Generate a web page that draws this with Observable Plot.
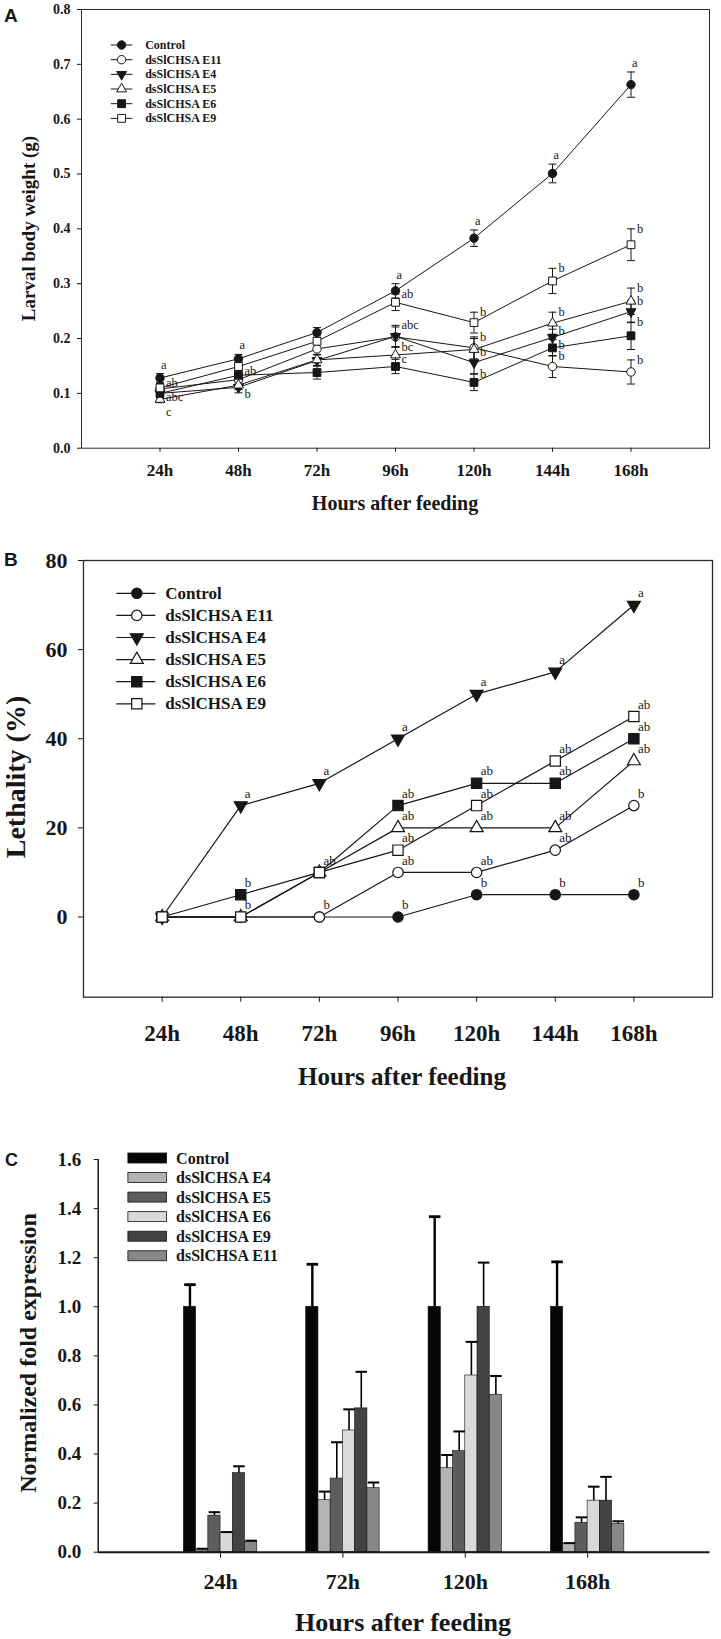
<!DOCTYPE html>
<html>
<head>
<meta charset="utf-8">
<script src="https://cdn.jsdelivr.net/npm/d3@7"></script>
<script src="https://cdn.jsdelivr.net/npm/@observablehq/plot@0.6"></script>
<style>
html,body{margin:0;padding:0;background:#fff;}
#root{position:relative;width:721px;height:1639px;overflow:hidden;background:#fff;}
.panel{position:absolute;left:0;width:721px;}
.panel svg{display:block;}
#overlay{position:absolute;left:0;top:0;pointer-events:none;}
</style>
</head>
<body>
<div id="root">
<div id="panelA" class="panel" style="top:0px"></div>
<div id="panelB" class="panel" style="top:545px"></div>
<div id="panelC" class="panel" style="top:1090px"></div>
<svg id="overlay" width="721" height="1639"></svg>
</div>
<script>
// ================= DATA =================
const hourValues = [24, 48, 72, 96, 120, 144, 168];
const hourLabels = ["24h", "48h", "72h", "96h", "120h", "144h", "168h"];
const lineSeries = ["Control", "dsSlCHSA E11", "dsSlCHSA E4", "dsSlCHSA E5", "dsSlCHSA E6", "dsSlCHSA E9"];

// Panel A: larval body weight (g)
const weightControl = [0.128, 0.163, 0.211, 0.287, 0.383, 0.501, 0.663];
const weightE11     = [0.108, 0.125, 0.181, 0.203, 0.183, 0.149, 0.139];
const weightE4      = [0.100, 0.111, 0.160, 0.204, 0.156, 0.202, 0.249];
const weightE5      = [0.089, 0.115, 0.161, 0.170, 0.180, 0.228, 0.268];
const weightE6      = [0.100, 0.133, 0.138, 0.149, 0.120, 0.183, 0.205];
const weightE9      = [0.110, 0.149, 0.195, 0.266, 0.229, 0.305, 0.371];
const weightErrControl = [0.008, 0.008, 0.009, 0.013, 0.015, 0.017, 0.023];
const weightErrE11     = [0.008, 0.008, 0.010, 0.018, 0.020, 0.020, 0.022];
const weightErrE4      = [0.008, 0.010, 0.010, 0.020, 0.020, 0.015, 0.020];
const weightErrE5      = [0.006, 0.008, 0.010, 0.015, 0.020, 0.020, 0.024];
const weightErrE6      = [0.008, 0.008, 0.012, 0.013, 0.015, 0.015, 0.025];
const weightErrE9      = [0.008, 0.010, 0.010, 0.015, 0.019, 0.023, 0.029];
const weightLettersControl = ["a", "a", "", "a", "a", "a", "a"];
const weightLettersE11     = ["", "", "", "", "b", "b", "b"];
const weightLettersE4      = ["abc", "b", "", "abc", "b", "b", "b"];
const weightLettersE5      = ["c", "", "", "bc", "", "b", "b"];
const weightLettersE6      = ["", "ab", "", "c", "b", "b", "b"];
const weightLettersE9      = ["ab", "", "", "ab", "b", "b", "b"];
const weightTicks = [0, 0.1, 0.2, 0.3, 0.4, 0.5, 0.6, 0.7, 0.8];

// Panel B: lethality (%)
const lethalityControl = [0, 0, 0, 0, 5, 5, 5];
const lethalityE11     = [0, 0, 0, 10, 10, 15, 25];
const lethalityE4      = [0, 25, 30, 40, 50, 55, 70];
const lethalityE5      = [0, 0, 10, 20, 20, 20, 35];
const lethalityE6      = [0, 5, 10, 25, 30, 30, 40];
const lethalityE9      = [0, 0, 10, 15, 25, 35, 45];
const lethalityLettersControl = ["", "", "", "b", "b", "b", "b"];
const lethalityLettersE11     = ["", "", "b", "ab", "ab", "ab", "b"];
const lethalityLettersE4      = ["", "a", "a", "a", "a", "a", "a"];
const lethalityLettersE5      = ["", "", "", "ab", "ab", "ab", "ab"];
const lethalityLettersE6      = ["", "b", "", "ab", "ab", "ab", "ab"];
const lethalityLettersE9      = ["", "b", "ab", "ab", "ab", "ab", "ab"];
const lethalityTicks = [0, 20, 40, 60, 80];

// Panel C: normalized fold expression
const exprTimes  = ["24h", "72h", "120h", "168h"];
const exprSeries = ["Control", "dsSlCHSA E4", "dsSlCHSA E5", "dsSlCHSA E6", "dsSlCHSA E9", "dsSlCHSA E11"];
const exprControl = [1.000, 1.000, 1.000, 1.000];
const exprE4      = [0.007, 0.212, 0.342, 0.034];
const exprE5      = [0.149, 0.300, 0.412, 0.120];
const exprE6      = [0.079, 0.496, 0.720, 0.210];
const exprE9      = [0.322, 0.586, 1.000, 0.210];
const exprE11     = [0.043, 0.261, 0.641, 0.115];
const exprErrControl = [0.090, 0.173, 0.367, 0.183];
const exprErrE4      = [0.007, 0.035, 0.054, 0.003];
const exprErrE5      = [0.014, 0.148, 0.080, 0.022];
const exprErrE6      = [0.003, 0.086, 0.137, 0.057];
const exprErrE9      = [0.028, 0.149, 0.180, 0.097];
const exprErrE11     = [0.004, 0.023, 0.077, 0.011];
const exprTicks = [0, 0.2, 0.4, 0.6, 0.8, 1.0, 1.2, 1.4, 1.6];

// ================= STYLE =================
const SERIF = "'Liberation Serif','Times New Roman',Times,serif";
const SANS = "'Liberation Sans',Arial,sans-serif";
const INK = "#161616";

const SQ3 = Math.sqrt(3);
const triDown = {draw(ctx, size) {
  const y = -Math.sqrt(size / (SQ3 * 3));
  ctx.moveTo(0, -2 * y);
  ctx.lineTo(-SQ3 * y, y);
  ctx.lineTo(SQ3 * y, y);
  ctx.closePath();
}};
const capSym = {draw(ctx, size) {
  const w = Math.sqrt(size) / 2;
  ctx.moveTo(-w, 0);
  ctx.lineTo(w, 0);
}};
const markerStyle = {
  "Control":      {shape: "circle",   fill: INK},
  "dsSlCHSA E11": {shape: "circle",   fill: "white"},
  "dsSlCHSA E4":  {shape: "down",     fill: INK},
  "dsSlCHSA E5":  {shape: "triangle", fill: "white"},
  "dsSlCHSA E6":  {shape: "square",   fill: INK},
  "dsSlCHSA E9":  {shape: "square",   fill: "white"}
};
const plotSymbol = {circle: "circle", square: "square", triangle: "triangle", down: triDown};
const d3Symbol = {circle: d3.symbolCircle, square: d3.symbolSquare, triangle: d3.symbolTriangle, down: triDown};
const radiusA = {circle: 4.2, square: 4.4, triangle: 3.7, down: 3.7};
const radiusB = {circle: 5.2, square: 5.8, triangle: 4.8, down: 4.8};
const barFill = {
  "Control": "#050505",
  "dsSlCHSA E4": "#b3b3b3",
  "dsSlCHSA E5": "#5d5d5d",
  "dsSlCHSA E6": "#d9d9d9",
  "dsSlCHSA E9": "#434343",
  "dsSlCHSA E11": "#878787"
};
const hourFmt = d => hourLabels[hourValues.indexOf(d)];

// letter placement tweaks (style only): anchor below the error bar, and vertical nudge in px
const letterPlaceA = {
  "dsSlCHSA E4|24": {low: true, dy: -1},
  "dsSlCHSA E5|24": {low: true, dy: 9},
  "dsSlCHSA E4|48": {low: true, dy: 1},
  "dsSlCHSA E4|144": {low: false, dy: 2},
  "dsSlCHSA E6|144": {low: false, dy: 5}
};

// ================= TABLES =================
const weightValues  = [weightControl, weightE11, weightE4, weightE5, weightE6, weightE9];
const weightErrors  = [weightErrControl, weightErrE11, weightErrE4, weightErrE5, weightErrE6, weightErrE9];
const weightLetters = [weightLettersControl, weightLettersE11, weightLettersE4, weightLettersE5, weightLettersE6, weightLettersE9];
const tableA = lineSeries.flatMap((s, si) => hourValues.map((h, i) => ({
  s, h, v: weightValues[si][i], e: weightErrors[si][i], l: weightLetters[si][i]
})));

const lethValues  = [lethalityControl, lethalityE11, lethalityE4, lethalityE5, lethalityE6, lethalityE9];
const lethLetters = [lethalityLettersControl, lethalityLettersE11, lethalityLettersE4, lethalityLettersE5, lethalityLettersE6, lethalityLettersE9];
const tableB = lineSeries.flatMap((s, si) => hourValues.map((h, i) => ({
  s, h, v: lethValues[si][i], l: lethLetters[si][i]
})));

const exprValues = [exprControl, exprE4, exprE5, exprE6, exprE9, exprE11];
const exprErrors = [exprErrControl, exprErrE4, exprErrE5, exprErrE6, exprErrE9, exprErrE11];
const GROUP = 0.6, BAR = GROUP / exprSeries.length;
const tableC = exprSeries.flatMap((s, si) => exprTimes.map((t, ti) => {
  const x1 = (ti + 1) - GROUP / 2 + si * BAR;
  return {s, t, x1, x2: x1 + BAR, xc: x1 + BAR / 2, v: exprValues[si][ti], e: exprErrors[si][ti]};
}));

// ================= PANEL A =================
const marksA = [];
for (const s of lineSeries) {
  marksA.push(Plot.line(tableA.filter(r => r.s === s), {x: "h", y: "v", stroke: INK, strokeWidth: 1}));
}
for (const s of lineSeries) {
  const d = tableA.filter(r => r.s === s);
  marksA.push(Plot.ruleX(d, {x: "h", y1: r => r.v - r.e, y2: r => r.v + r.e, stroke: INK, strokeWidth: 1}));
  marksA.push(Plot.dot(d, {x: "h", y: r => r.v + r.e, symbol: capSym, r: 4.5, stroke: INK, fill: "none", strokeWidth: 1}));
  marksA.push(Plot.dot(d, {x: "h", y: r => r.v - r.e, symbol: capSym, r: 4.5, stroke: INK, fill: "none", strokeWidth: 1}));
}
for (const s of lineSeries) {
  const st = markerStyle[s];
  marksA.push(Plot.dot(tableA.filter(r => r.s === s), {x: "h", y: "v", symbol: plotSymbol[st.shape], r: radiusA[st.shape], fill: st.fill, stroke: INK, strokeWidth: 1}));
}
const letterOpts = {fontSize: 12.5, fontWeight: "normal", fontFamily: SERIF, fill: INK, textAnchor: "start"};
const lettersA = tableA.filter(r => r.l).map(r => {
  const p = letterPlaceA[r.s + "|" + r.h] || {low: false, dy: 0};
  const ctrl = r.s === "Control";
  return {...r, ay: p.low ? r.v - r.e : r.v + r.e, ady: ctrl ? -9 : p.dy, adx: ctrl ? 1 : 6};
});
marksA.push(Plot.text(lettersA, {
  x: "h", y: "ay", text: "l", ...letterOpts,
  render(index, scales, values, dims, context, next) {
    const g = next(index, scales, values, dims, context);
    d3.select(g).selectAll("text").each(function(_, j) {
      const r = lettersA[index[j]];
      d3.select(this).attr("dx", r.adx).attr("dy", r.ady);
    });
    return g;
  }
}));
marksA.push(Plot.frame({stroke: "#2a2a2a", strokeWidth: 1}));
marksA.push(Plot.axisY({ticks: weightTicks, tickFormat: d3.format(".1f"), tickSize: 4, tickPadding: 7, fontSize: 14, label: null, stroke: INK}));
marksA.push(Plot.axisX({ticks: hourValues, tickFormat: hourFmt, tickSize: 4, tickPadding: 12, fontSize: 17, label: null, stroke: INK}));

const plotA = Plot.plot({
  width: 721, height: 545,
  marginTop: 9, marginRight: 12, marginBottom: 97.3, marginLeft: 81,
  style: {fontFamily: SERIF, fontWeight: "bold", color: INK, background: "transparent", overflow: "visible"},
  x: {domain: [0, 192]},
  y: {domain: [0, 0.8]},
  marks: marksA
});
document.getElementById("panelA").appendChild(plotA);

// ================= PANEL B =================
const marksB = [];
for (const s of lineSeries) {
  marksB.push(Plot.line(tableB.filter(r => r.s === s), {x: "h", y: "v", stroke: INK, strokeWidth: 1.2}));
}
for (const s of lineSeries) {
  const st = markerStyle[s];
  marksB.push(Plot.dot(tableB.filter(r => r.s === s), {x: "h", y: "v", symbol: plotSymbol[st.shape], r: radiusB[st.shape], fill: st.fill, stroke: INK, strokeWidth: 1.2}));
}
marksB.push(Plot.text(tableB.filter(r => r.l), {x: "h", y: "v", text: "l", dx: 4, dy: -12, ...letterOpts, fontSize: 13}));
marksB.push(Plot.frame({stroke: "#2a2a2a", strokeWidth: 1.3}));
marksB.push(Plot.axisY({ticks: lethalityTicks, tickSize: 5, tickPadding: 11, fontSize: 22, label: null, stroke: INK}));
marksB.push(Plot.axisX({ticks: hourValues, tickFormat: hourFmt, tickSize: 5, tickPadding: 22, fontSize: 23, label: null, stroke: INK}));

const plotB = Plot.plot({
  width: 721, height: 545,
  marginTop: 15, marginRight: 9, marginBottom: 93.3, marginLeft: 83,
  style: {fontFamily: SERIF, fontWeight: "bold", color: INK, background: "transparent", overflow: "visible"},
  x: {domain: [0, 192]},
  y: {domain: [-18, 80]},
  marks: marksB
});
document.getElementById("panelB").appendChild(plotB);

// ================= PANEL C =================
const marksC = [];
for (const s of exprSeries) {
  marksC.push(Plot.rect(tableC.filter(r => r.s === s), {x1: "x1", x2: "x2", y1: r => 0, y2: "v", fill: barFill[s], stroke: "#111", strokeWidth: 0.6}));
}
for (const s of exprSeries) {
  const d = tableC.filter(r => r.s === s);
  const w = s === "Control" ? 2.4 : 1.6;
  marksC.push(Plot.ruleX(d, {x: "xc", y1: "v", y2: r => r.v + r.e, stroke: "#000", strokeWidth: w}));
  marksC.push(Plot.dot(d, {x: "xc", y: r => r.v + r.e, symbol: capSym, r: 6.5, stroke: "#000", fill: "none", strokeWidth: w + 0.4}));
}
marksC.push(Plot.ruleX([0], {stroke: INK, strokeWidth: 1.5}));
marksC.push(Plot.ruleY([0], {stroke: INK, strokeWidth: 2}));
marksC.push(Plot.axisY({ticks: exprTicks, tickFormat: d3.format(".1f"), tickSize: 4, tickPadding: 13, fontSize: 19, label: null, stroke: INK}));
marksC.push(Plot.axisX({ticks: [1, 2, 3, 4], tickFormat: d => exprTimes[d - 1], tickSize: 6, tickPadding: 15, fontSize: 22, label: null, stroke: INK}));

const plotC = Plot.plot({
  width: 721, height: 549,
  marginTop: 69, marginRight: 11.5, marginBottom: 87.3, marginLeft: 97.7,
  style: {fontFamily: SERIF, fontWeight: "bold", color: INK, background: "transparent", overflow: "visible"},
  x: {domain: [0, 5]},
  y: {domain: [0, 1.6]},
  marks: marksC
});
document.getElementById("panelC").appendChild(plotC);

// ================= OVERLAY: titles, panel letters, legends =================
const ov = d3.select("#overlay");
function addText(x, y, str, o) {
  const t = ov.append("text").attr("x", x).attr("y", y).text(str)
    .attr("font-family", o.family || SERIF).attr("font-size", o.size)
    .attr("font-weight", o.weight || "bold").attr("text-anchor", o.anchor || "start")
    .attr("dominant-baseline", o.baseline || "central").attr("fill", INK);
  if (o.rotate) t.attr("transform", `rotate(${o.rotate},${x},${y})`);
  return t;
}
// panel letters
addText(4, 21.7, "A", {size: 19, family: SANS, baseline: "alphabetic"});
addText(4, 566, "B", {size: 19, family: SANS, baseline: "alphabetic"});
addText(5, 1165.5, "C", {size: 18, family: SANS, baseline: "alphabetic"});
// axis titles
addText(28, 228.5, "Larval body weight (g)", {size: 19, anchor: "middle", rotate: -90});
addText(395, 503, "Hours after feeding", {size: 20, anchor: "middle"});
addText(15, 777, "Lethality (%)", {size: 28, anchor: "middle", rotate: -90});
addText(402, 1076, "Hours after feeding", {size: 25, anchor: "middle"});
addText(28, 1353, "Normalized fold expression", {size: 24, anchor: "middle", rotate: -90});
addText(403, 1622, "Hours after feeding", {size: 26, anchor: "middle"});

function lineLegend(o) {
  lineSeries.forEach((s, i) => {
    const y = o.y0 + i * o.dy;
    const st = markerStyle[s];
    ov.append("line").attr("x1", o.x0).attr("x2", o.x1).attr("y1", y).attr("y2", y)
      .attr("stroke", INK).attr("stroke-width", o.sw);
    const r = o.radius[st.shape];
    ov.append("path").attr("d", d3.symbol(d3Symbol[st.shape], r * r * Math.PI)())
      .attr("transform", `translate(${o.xm},${y})`).attr("fill", st.fill)
      .attr("stroke", INK).attr("stroke-width", o.sw);
    addText(o.xt, y, s, {size: o.size});
  });
}
lineLegend({x0: 110.8, x1: 132.3, xm: 121.6, xt: 145.2, y0: 45, dy: 14.67, size: 12, radius: radiusA, sw: 1});
lineLegend({x0: 116.3, x1: 155.3, xm: 136.8, xt: 165.3, y0: 593.3, dy: 22.1, size: 17, radius: radiusB, sw: 1.2});

exprSeries.forEach((s, i) => {
  const y = 1158 + i * 19.55;
  ov.append("rect").attr("x", 127.9).attr("y", y - 5).attr("width", 38.6).attr("height", 10)
    .attr("fill", barFill[s]).attr("stroke", "#111").attr("stroke-width", 0.8);
  addText(176.1, y, s, {size: 16});
});
</script>
</body>
</html>
